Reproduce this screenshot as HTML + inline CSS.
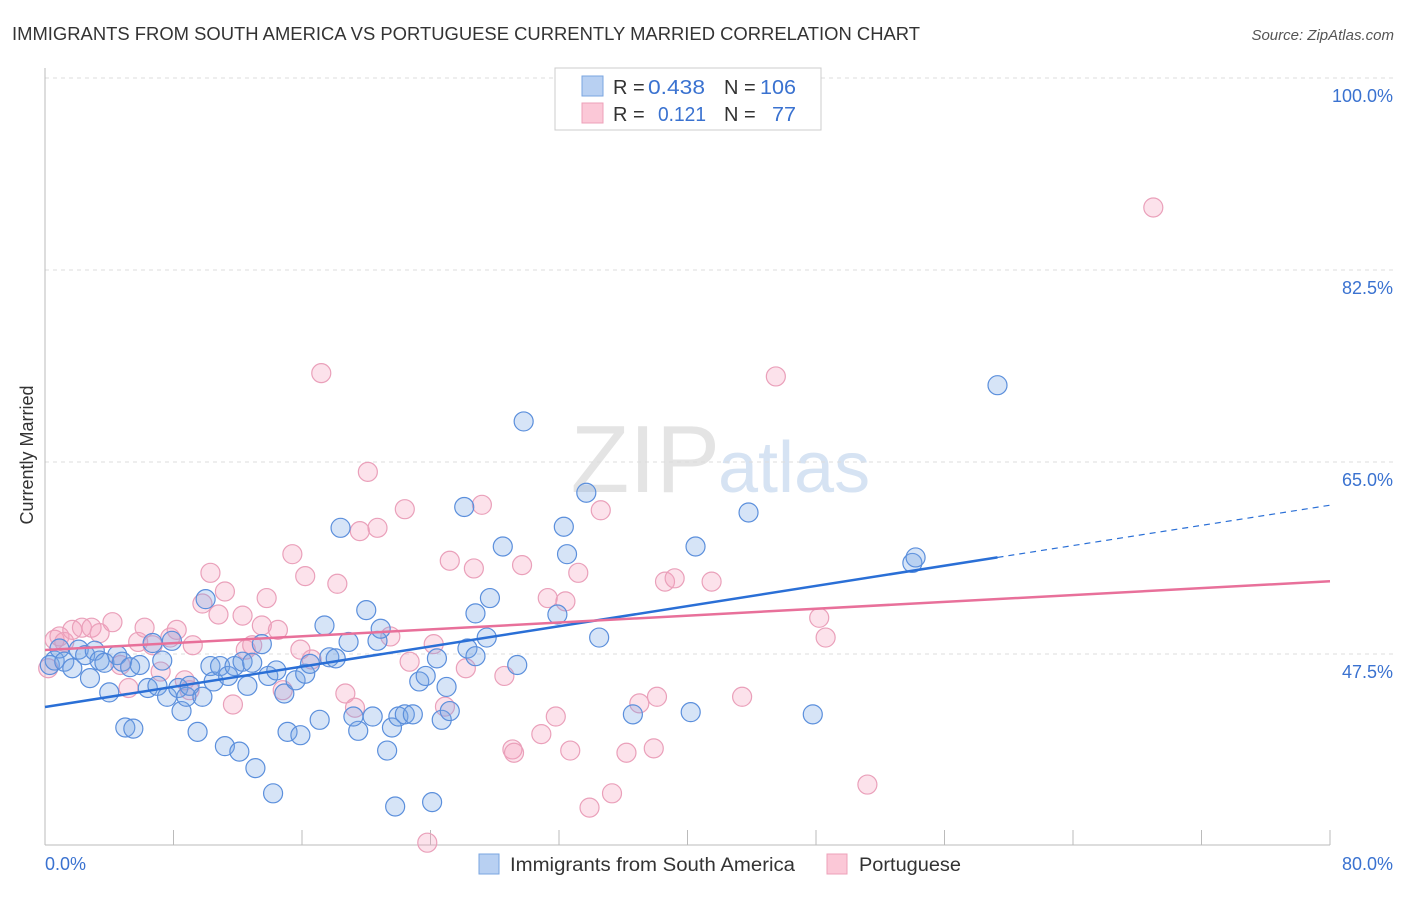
<!DOCTYPE html>
<html><head><meta charset="utf-8"><style>
body{margin:0;background:#fff;font-family:"Liberation Sans",sans-serif}
svg text{font-family:"Liberation Sans",sans-serif}
</style></head><body>
<svg id="chart" width="1406" height="892" xmlns="http://www.w3.org/2000/svg">
<text x="12" y="40" font-size="18" fill="#333" textLength="908" lengthAdjust="spacingAndGlyphs">IMMIGRANTS FROM SOUTH AMERICA VS PORTUGUESE CURRENTLY MARRIED CORRELATION CHART</text>
<text x="1394" y="40" font-size="15" fill="#555" font-style="italic" text-anchor="end">Source: ZipAtlas.com</text>
<text x="33" y="455" font-size="18" fill="#333" transform="rotate(-90 33 455)" text-anchor="middle">Currently Married</text>
<text x="720" y="492" font-size="96" fill="#e4e4e4" font-family="Liberation Serif" text-anchor="end">ZIP</text>
<text x="718" y="492" font-size="72" fill="#d6e3f3">atlas</text>
<g id="grid"></g><g id="axes"></g><g id="pts"></g><g id="lines"></g>
<g>
<rect x="555" y="68" width="266" height="62" fill="#fff" stroke="#ccc"/>
<rect x="582" y="76" width="21" height="20" fill="#b8d0f2" stroke="#7aa6e0"/>
<rect x="582" y="103" width="21" height="20" fill="#fbc8d7" stroke="#eea0b8"/>
<text x="613" y="94" font-size="20" fill="#333">R =</text>
<text x="648" y="94" font-size="20" fill="#3a72d0" textLength="57" lengthAdjust="spacingAndGlyphs">0.438</text>
<text x="724" y="94" font-size="20" fill="#333">N =</text>
<text x="760" y="94" font-size="20" fill="#3a72d0" textLength="36" lengthAdjust="spacingAndGlyphs">106</text>
<text x="613" y="121" font-size="20" fill="#333">R =</text>
<text x="658" y="121" font-size="20" fill="#3a72d0" textLength="48" lengthAdjust="spacingAndGlyphs">0.121</text>
<text x="724" y="121" font-size="20" fill="#333">N =</text>
<text x="772" y="121" font-size="20" fill="#3a72d0" textLength="24" lengthAdjust="spacingAndGlyphs">77</text>
</g>
<g>
<rect x="479" y="854" width="20" height="20" fill="#b8d0f2" stroke="#7aa6e0"/>
<text x="510" y="871" font-size="19" fill="#333" textLength="285" lengthAdjust="spacingAndGlyphs">Immigrants from South America</text>
<rect x="827" y="854" width="20" height="20" fill="#fbc8d7" stroke="#eea0b8"/>
<text x="859" y="871" font-size="19" fill="#333" textLength="102" lengthAdjust="spacingAndGlyphs">Portuguese</text>
</g>
</svg>
<script>
const blueX=[0.3,0.6,0.9,1.2,1.7,2.1,2.5,2.8,3.1,3.4,3.7,4.0,4.5,4.8,5.0,5.5,5.3,5.9,6.4,6.7,7.0,7.3,7.6,7.9,8.3,8.5,8.8,9.0,9.5,9.8,10.0,10.3,10.5,10.9,11.2,11.4,11.8,12.1,12.3,12.6,12.9,13.1,13.5,13.9,14.2,14.4,14.9,15.1,15.6,15.9,16.2,16.5,17.1,17.4,17.7,18.1,18.4,18.9,19.5,19.2,20.0,20.4,20.7,20.9,21.3,21.6,21.8,22.0,22.4,22.9,23.3,23.7,24.1,24.4,24.7,25.0,25.2,26.1,26.3,26.8,26.8,27.5,27.7,28.5,29.4,29.8,31.9,32.3,32.5,33.7,34.5,36.6,40.2,40.5,43.8,47.8,54.0,54.2,59.3];
const blueY=[46.5,46.9,48.0,46.8,46.2,47.9,47.4,45.3,47.8,46.9,46.7,44.0,47.4,46.8,40.8,40.7,46.3,46.5,44.4,48.5,44.6,46.9,43.6,48.7,44.4,42.3,43.6,44.6,40.4,43.6,52.5,46.4,45.0,46.4,39.1,45.5,46.4,38.6,46.8,44.6,46.7,37.1,48.4,45.5,34.8,46.0,43.9,40.4,45.1,40.1,45.7,46.6,41.5,50.1,47.2,47.1,59.0,48.6,40.5,41.8,51.5,41.8,48.7,49.8,38.7,40.8,33.6,41.8,42.0,42.0,45.0,45.5,34.0,47.1,41.5,44.5,42.3,60.9,48.0,51.2,47.3,49.0,52.6,57.3,46.5,68.7,51.1,59.1,56.6,62.2,49.0,42.0,42.2,57.3,60.4,42.0,55.8,56.3,72.0];
const pinkX=[0.2,0.6,0.9,1.2,1.7,2.3,2.9,3.4,4.2,4.7,5.2,5.8,6.2,6.7,7.2,7.8,8.2,8.7,9.0,9.2,9.8,10.3,10.8,11.2,11.7,12.3,12.5,12.9,13.5,13.8,14.5,14.8,15.4,15.9,16.2,16.6,17.2,18.2,18.7,19.3,19.6,20.1,20.7,21.5,22.4,22.7,24.2,23.8,24.9,25.2,26.2,26.7,27.2,28.6,29.1,29.2,29.7,30.9,31.3,31.8,32.4,32.7,33.2,33.9,34.6,35.3,36.2,37.0,37.9,38.1,38.6,39.2,41.5,43.4,45.5,48.2,48.6,51.2,69.0];
const pinkY=[46.2,48.8,49.1,48.6,49.7,49.9,49.9,49.4,50.4,46.5,44.4,48.6,49.9,48.3,45.9,49.0,49.7,45.1,44.2,48.3,52.1,54.9,51.1,53.2,42.9,51.0,47.9,48.3,50.1,52.6,49.7,44.2,56.6,47.9,54.6,47.0,73.1,53.9,43.9,42.6,58.7,64.1,59.0,49.1,60.7,46.8,48.4,30.3,42.7,56.0,46.2,55.3,61.1,45.5,38.8,38.5,55.6,40.2,52.6,41.8,52.3,38.7,54.9,33.5,60.6,34.8,38.5,43.0,38.9,43.6,54.1,54.4,54.1,43.6,72.8,50.8,49.0,35.6,88.2];
const yTicks=[47.5,65.0,82.5,100.0];
const xTickVals=[0,8,16,24,32,40,48,56,64,72,80];
const NS='http://www.w3.org/2000/svg';
const sx=v=>45+v*16.0625, sy=v=>654-(v-47.5)*10.971;
function mk(tag,at,parent){const e=document.createElementNS(NS,tag);for(const k in at)e.setAttribute(k,at[k]);document.getElementById(parent).appendChild(e);return e;}
yTicks.forEach(t=>{
 const g=mk('line',{x1:45,x2:1394,y1:sy(t),y2:sy(t),stroke:'#ddd','stroke-dasharray':'4,4'},'grid');
 
 
 const l=mk('text',{x:1393,y:sy(t)+24,'font-size':18,fill:'#3a72d0','text-anchor':'end'},'axes');
 l.textContent=t.toFixed(1)+'%';
 
 
});
const ax=mk('line',{x1:45,x2:45,y1:68,y2:845,stroke:'#bbb'},'axes');


const bx=mk('line',{x1:45,x2:1330,y1:845,y2:845,stroke:'#bbb'},'axes');


xTickVals.forEach(t=>{
 const k=mk('line',{x1:sx(t),x2:sx(t),y1:830,y2:845,stroke:'#bbb'},'axes');
 
 
});
[[0,'start'],[80,'end']].forEach(([t,a])=>{
 const l=mk('text',{x:t===0?45:1393,y:870,'font-size':18,fill:'#3a72d0','text-anchor':a},'axes');
 l.textContent=t.toFixed(1)+'%';
 
 
});
function pts(X,Y,fill,stroke,name){X.forEach((x,i)=>{
 const c=mk('circle',{cx:sx(x),cy:sy(Y[i]),r:9.5,fill:fill,stroke:stroke,'stroke-width':1.2},'pts');
 
 
});}
pts(pinkX,pinkY,'rgba(246,160,190,0.3)','#eaa0ba','point-portuguese');
pts(blueX,blueY,'rgba(120,165,230,0.3)','#5b8fdc','point-south-america');
function fit(X,Y){const n=X.length;let mx=0,my=0;X.forEach((x,i)=>{mx+=x;my+=Y[i]});mx/=n;my/=n;let sxy=0,sxx=0;X.forEach((x,i)=>{sxy+=(x-mx)*(Y[i]-my);sxx+=(x-mx)**2});const b=sxy/sxx;return [my-b*mx,b];}
const [ba,bb]=fit(blueX,blueY),[pa,pb]=fit(pinkX,pinkY);
const bmax=Math.max(...blueX);
let l1=mk('line',{x1:sx(0),y1:sy(ba),x2:sx(bmax),y2:sy(ba+bb*bmax),stroke:'#2a6fd6','stroke-width':2.5},'lines');


let l2=mk('line',{x1:sx(bmax),y1:sy(ba+bb*bmax),x2:sx(80),y2:sy(ba+bb*80),stroke:'#2a6fd6','stroke-width':1.2,'stroke-dasharray':'6,5'},'lines');


let l3=mk('line',{x1:sx(0),y1:sy(pa),x2:sx(80),y2:sy(pa+pb*80),stroke:'#e8709a','stroke-width':2.5},'lines');


</script>
</body></html>
